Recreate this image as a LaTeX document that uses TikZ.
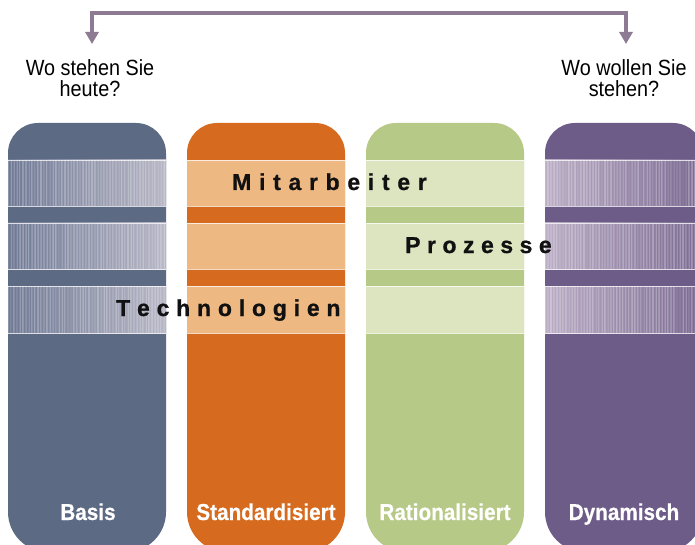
\documentclass[tikz,border=0pt]{standalone}
\usepackage{fontspec}
\usetikzlibrary{arrows.meta}
\setmainfont{Liberation Sans}
\newfontfamily\qfont[FakeStretch=0.9]{Liberation Sans}
\newfontfamily\lblfont[FakeStretch=0.9,FakeBold=0.6]{Liberation Sans}
\newfontfamily\bandfont[FakeBold=0.8]{Liberation Sans}

\definecolor{basisC}{HTML}{5D6A84}
\definecolor{basisL}{HTML}{6E7894}
\definecolor{basisR}{HTML}{B8B7C6}
\definecolor{stdC}{HTML}{D66B1F}
\definecolor{stdB}{HTML}{EEB883}
\definecolor{ratC}{HTML}{B7C986}
\definecolor{ratB}{HTML}{DDE4C0}
\definecolor{dynC}{HTML}{6E5C88}
\definecolor{dynL}{HTML}{BBAEC5}
\definecolor{dynR}{HTML}{7A6891}
\definecolor{arrowC}{HTML}{8C7B93}
\definecolor{inkC}{HTML}{111111}

% letter-spaced text: #1 = extra space after each letter, #2 = word
\makeatletter
\newcommand\tracked[2]{\def\tr@k{#1}\@tfor\tr@c:=#2\do{\tr@c\kern\tr@k}\unkern}
\makeatother

% one rounded pillar: left x, right x, colour
\newcommand\pillar[3]{%
  \fill[#3] (#1,300) [rounded corners=30pt] -- (#1,123) -- (#2,123) -- (#2,300)
    [rounded corners=40pt] -- (#2,552) -- (#1,552) -- cycle;}

% flat band across a pillar: left x, right x, top y, bottom y, colour
\newcommand\flatband[5]{%
  \fill[#5] (#1,#3) rectangle (#2,#4);
  \draw[bandedge] (#1,#3) -- (#2,#3) (#1,#4) -- (#2,#4);}

% shaded, finely striped band: left x, right x, top y, bottom y, left colour, right colour
\newcommand\stripeband[6]{%
  \shade[left color=#5,right color=#6] (#1,#3) rectangle (#2,#4);
  \foreach \k in {0,...,104}{%
    \pgfmathsetmacro\op{0.04+0.24*rnd}
    \draw[white,opacity=\op,line width=0.5pt] ({#1+0.5+\k*1.5},#3) -- ({#1+0.5+\k*1.5},#4);
  }
  \draw[bandedge] (#1,#3) -- (#2,#3) (#1,#4) -- (#2,#4);}

\begin{document}
\begin{tikzpicture}[x=1pt,y=-1pt,
  bandedge/.style={white,opacity=0.75,line width=0.9pt},
  question/.style={font=\qfont\fontsize{22}{21}\selectfont,align=center,inner sep=0pt,anchor=base},
  pillarlabel/.style={font=\lblfont\bfseries\fontsize{23}{23}\selectfont,text=white,inner sep=0pt,anchor=base},
  bandlabel/.style={font=\bandfont\bfseries\fontsize{23}{23}\selectfont,text=inkC,inner sep=0pt,anchor=base west},
  linkarrow/.style={draw=arrowC,line width=3.4pt,{Triangle[width=13pt,length=12pt]}-{Triangle[width=13pt,length=12pt]}}]
\useasboundingbox (0,0) rectangle (695,545);
\pgfmathsetseed{4711}

% pillars
\pillar{8}{166}{basisC}
\pillar{187}{345}{stdC}
\pillar{366}{524}{ratC}
\pillar{545}{703}{dynC}

% bands
\foreach \yt/\yb in {160/206,223/269,286/333}{%
  \stripeband{8}{166}{\yt}{\yb}{basisL}{basisR}
  \flatband{187}{345}{\yt}{\yb}{stdB}
  \flatband{366}{524}{\yt}{\yb}{ratB}
  \stripeband{545}{703}{\yt}{\yb}{dynL}{dynR}
}

% band captions
\node[bandlabel] (mit) at (232,190) {\tracked{7.7pt}{Mitarbeiter}};
\node[bandlabel] (pro) at (405,253) {\tracked{6.5pt}{Prozesse}};
\node[bandlabel] (tec) at (116,316) {\tracked{6.8pt}{Technologien}};

% pillar captions
\node[pillarlabel] (basis) at (88,520) {Basis};
\node[pillarlabel] (std) at (266,520) {Standardisiert};
\node[pillarlabel] (rat) at (445,520) {Rationalisiert};
\node[pillarlabel] (dyn) at (624,520) {Dynamisch};

% questions (base anchor sits on the last line) and the link between them
\node[question] (now) at (90,97) {Wo stehen Sie\\heute?};
\node[question] (goal) at (624,97) {Wo wollen Sie\\stehen?};
\coordinate (nowtip) at (92,44);
\coordinate (goaltip) at (626,44);
\draw[linkarrow] (nowtip) -- (92,13) -- (626,13) -- (goaltip);
\end{tikzpicture}
\end{document}
